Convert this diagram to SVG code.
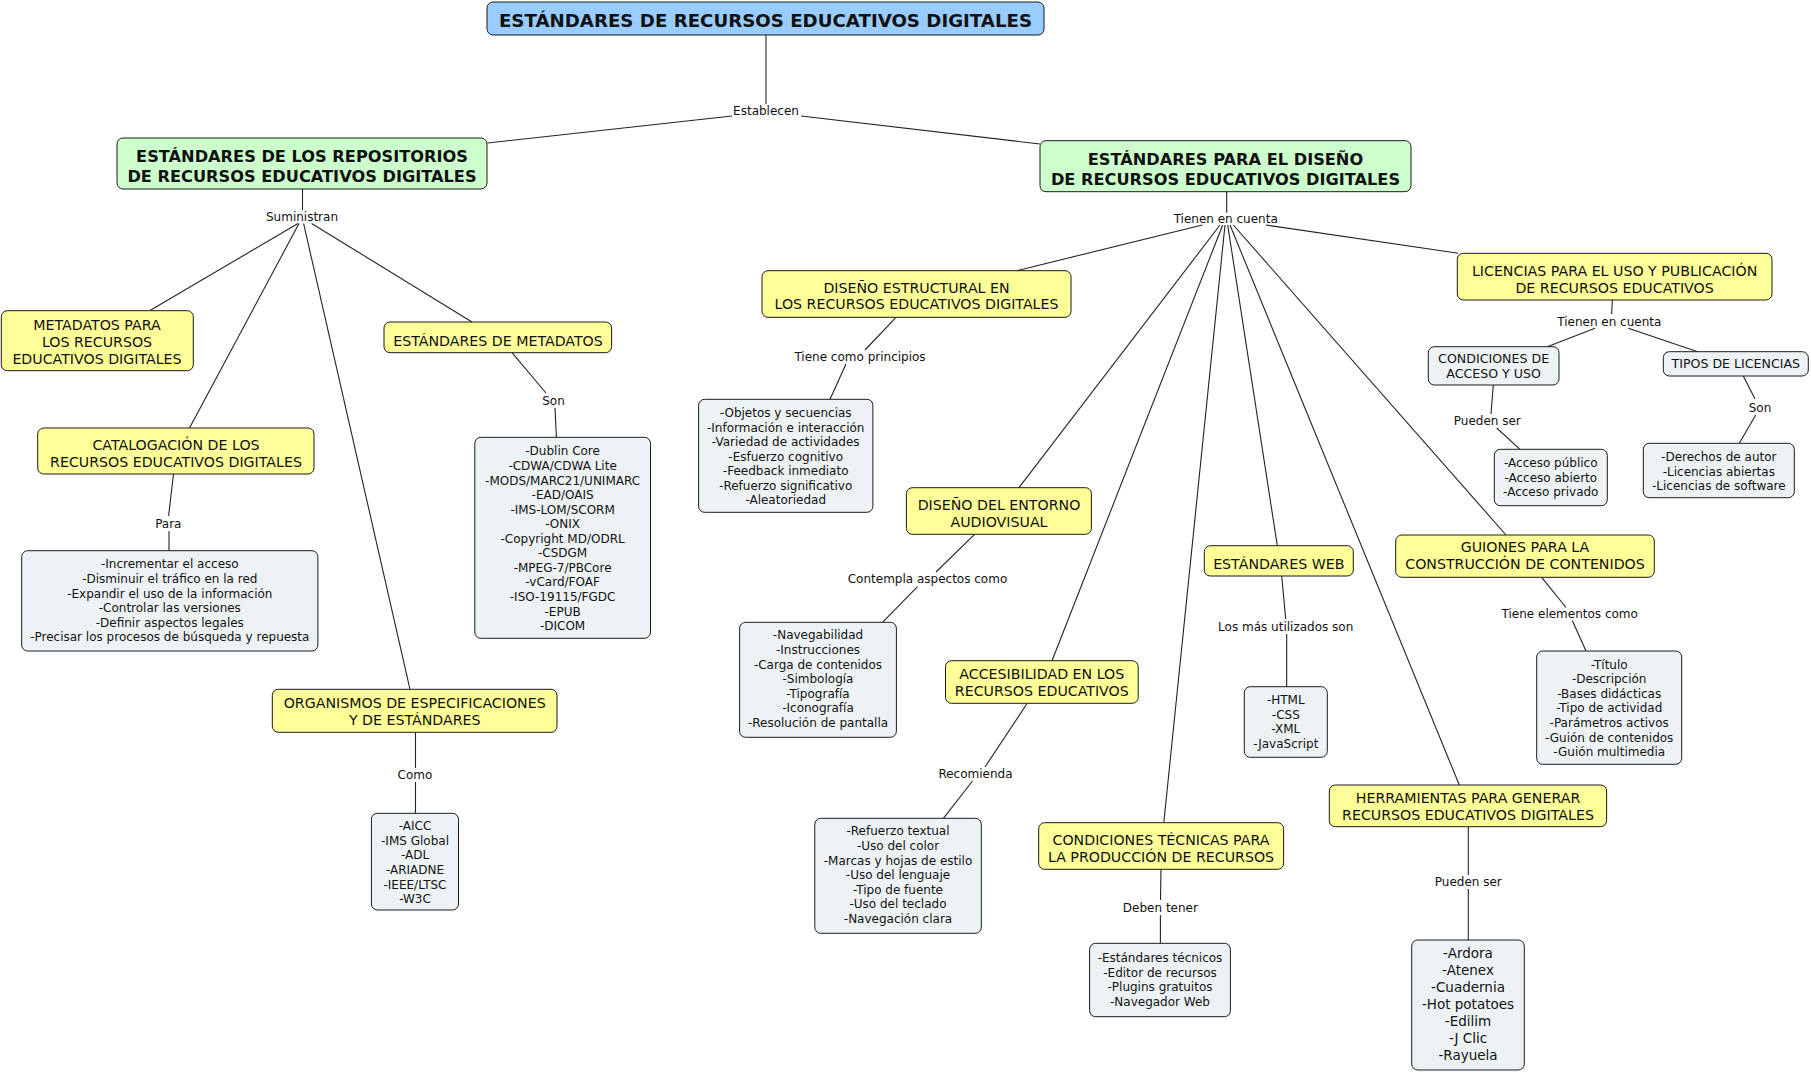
<svg xmlns="http://www.w3.org/2000/svg" width="1811" height="1073" viewBox="0 0 1811 1073">
<style>
text{font-family:"DejaVu Sans",Verdana,"Liberation Sans",sans-serif;fill:#111;text-anchor:middle}
.box{stroke:#1a1a1a;stroke-width:1}
.blu{fill:#99ccff}.grn{fill:#ccffcc}.yel{fill:#ffff99}.lst{fill:#edf3f5}
.tr{font-size:18.2px;font-weight:bold}
.tm{font-size:16.2px;font-weight:bold}
.tn{font-size:14.2px}
.ts{font-size:12.6px}
.tl{font-size:12px}
.tb{font-size:13.5px}
.lk{font-size:12px}
#connectors line{stroke:#222;stroke-width:1.1}
</style>
<rect width="1811" height="1073" fill="#fff"/>
<g id="connectors">
<line x1="766" y1="35" x2="766" y2="104"/>
<line x1="732" y1="116" x2="487.5" y2="143"/>
<line x1="801" y1="116" x2="1040" y2="144"/>
<line x1="302.5" y1="189" x2="302.5" y2="210"/>
<line x1="298" y1="223.5" x2="149.6" y2="310.7"/>
<line x1="299" y1="223.5" x2="189.5" y2="428"/>
<line x1="303.6" y1="223.5" x2="410" y2="689.3"/>
<line x1="311.6" y1="223.5" x2="472" y2="322"/>
<line x1="512" y1="352.7" x2="546" y2="393"/>
<line x1="555" y1="408" x2="556.4" y2="437.3"/>
<line x1="173.5" y1="474" x2="168.6" y2="516"/>
<line x1="169" y1="531" x2="169" y2="550.7"/>
<line x1="415.5" y1="732.3" x2="415.5" y2="768"/>
<line x1="415.5" y1="782" x2="415.5" y2="813.3"/>
<line x1="1226.7" y1="191.7" x2="1226.7" y2="212.7"/>
<line x1="1202.3" y1="225" x2="1016.7" y2="270.7"/>
<line x1="1266" y1="225" x2="1458.3" y2="253.3"/>
<line x1="1220" y1="225" x2="1019" y2="487.7"/>
<line x1="1222.7" y1="225" x2="1052" y2="660.7"/>
<line x1="1225" y1="225" x2="1163.8" y2="822.7"/>
<line x1="1227.7" y1="225" x2="1277.3" y2="545.7"/>
<line x1="1230" y1="225" x2="1459.3" y2="785"/>
<line x1="1233.3" y1="225" x2="1506" y2="535"/>
<line x1="896" y1="317.3" x2="865" y2="350"/>
<line x1="846" y1="364" x2="830" y2="399.3"/>
<line x1="974.6" y1="534.3" x2="936" y2="572"/>
<line x1="917.5" y1="586.7" x2="882.5" y2="622.3"/>
<line x1="1027.2" y1="703.3" x2="985" y2="767"/>
<line x1="972.5" y1="781" x2="943.4" y2="818.3"/>
<line x1="1161" y1="869.3" x2="1160.5" y2="900"/>
<line x1="1160.4" y1="915" x2="1160.4" y2="943.3"/>
<line x1="1281.7" y1="576" x2="1285.7" y2="619"/>
<line x1="1286.7" y1="634" x2="1286.7" y2="686.7"/>
<line x1="1541.7" y1="577.3" x2="1566" y2="607.5"/>
<line x1="1572.3" y1="620.5" x2="1586" y2="651"/>
<line x1="1468.3" y1="826.7" x2="1468.3" y2="875"/>
<line x1="1468.3" y1="889" x2="1468.3" y2="940"/>
<line x1="1612.3" y1="300" x2="1611.7" y2="314"/>
<line x1="1595" y1="328.3" x2="1547.3" y2="346.7"/>
<line x1="1628.3" y1="328.3" x2="1697.7" y2="351.7"/>
<line x1="1493.3" y1="385" x2="1491" y2="414"/>
<line x1="1496.7" y1="428" x2="1520" y2="449.3"/>
<line x1="1743.3" y1="376" x2="1755" y2="399"/>
<line x1="1755.7" y1="415" x2="1739.3" y2="443.3"/>
</g>
<g id="link-labels">
<text class="lk" x="766" y="115">Establecen</text>
<text class="lk" x="302" y="221">Suministran</text>
<text class="lk" x="553.5" y="405">Son</text>
<text class="lk" x="168.3" y="527.5">Para</text>
<text class="lk" x="415" y="779">Como</text>
<text class="lk" x="1225.7" y="222.5">Tienen en cuenta</text>
<text class="lk" x="860" y="361">Tiene como principios</text>
<text class="lk" x="927.5" y="583">Contempla aspectos como</text>
<text class="lk" x="975.5" y="778">Recomienda</text>
<text class="lk" x="1160.4" y="912">Deben tener</text>
<text class="lk" x="1285.7" y="631">Los más utilizados son</text>
<text class="lk" x="1569.7" y="618">Tiene elementos como</text>
<text class="lk" x="1468.3" y="886">Pueden ser</text>
<text class="lk" x="1609.3" y="326">Tienen en cuenta</text>
<text class="lk" x="1487.3" y="425">Pueden ser</text>
<text class="lk" x="1760" y="411.5">Son</text>
</g>
<g id="n-root"><rect class="box blu" x="487" y="2" width="557" height="33" rx="6"/><text class="tr" x="765.5" y="27">ESTÁNDARES DE RECURSOS EDUCATIVOS DIGITALES</text></g>
<g id="n-repos"><rect class="box grn" x="117" y="138" width="370" height="51" rx="6"/><text class="tm" x="302" y="162">ESTÁNDARES DE LOS REPOSITORIOS</text><text class="tm" x="302" y="182">DE RECURSOS EDUCATIVOS DIGITALES</text></g>
<g id="n-diseno"><rect class="box grn" x="1040" y="140.7" width="371" height="51" rx="6"/><text class="tm" x="1225.5" y="165">ESTÁNDARES PARA EL DISEÑO</text><text class="tm" x="1225.5" y="184.5">DE RECURSOS EDUCATIVOS DIGITALES</text></g>
<g id="n-metadatos-para"><rect class="box yel" x="1.3" y="310.7" width="192" height="60" rx="6"/><text class="tn" x="97" y="330">METADATOS PARA</text><text class="tn" x="97" y="347">LOS RECURSOS</text><text class="tn" x="97" y="364">EDUCATIVOS DIGITALES</text></g>
<g id="n-catalogacion"><rect class="box yel" x="37.7" y="428" width="276.3" height="46" rx="6"/><text class="tn" x="176" y="450">CATALOGACIÓN DE LOS</text><text class="tn" x="176" y="467">RECURSOS EDUCATIVOS DIGITALES</text></g>
<g id="n-est-metadatos"><rect class="box yel" x="384" y="322" width="227.6" height="30.7" rx="6"/><text class="tn" x="498" y="346">ESTÁNDARES DE METADATOS</text></g>
<g id="n-organismos"><rect class="box yel" x="272.3" y="689.3" width="284.7" height="43" rx="6"/><text class="tn" x="414.7" y="708">ORGANISMOS DE ESPECIFICACIONES</text><text class="tn" x="414.7" y="725">Y DE ESTÁNDARES</text></g>
<g id="n-lista-para"><rect class="box lst" x="21.7" y="550.7" width="296.2" height="100.3" rx="6"/><text class="tl"><tspan x="169.8" y="568.4">-Incrementar el acceso</tspan><tspan x="169.8" y="582.9">-Disminuir el tráfico en la red</tspan><tspan x="169.8" y="597.5">-Expandir el uso de la información</tspan><tspan x="169.8" y="612">-Controlar las versiones</tspan><tspan x="169.8" y="626.5">-Definir aspectos legales</tspan><tspan x="169.8" y="641.1">-Precisar los procesos de búsqueda y repuesta</tspan></text></g>
<g id="n-lista-metadatos"><rect class="box lst" x="474.8" y="437.3" width="175.7" height="201" rx="6"/><text class="tl"><tspan x="562.6" y="455.4">-Dublin Core</tspan><tspan x="562.6" y="470">-CDWA/CDWA Lite</tspan><tspan x="562.6" y="484.5">-MODS/MARC21/UNIMARC</tspan><tspan x="562.6" y="499.1">-EAD/OAIS</tspan><tspan x="562.6" y="513.6">-IMS-LOM/SCORM</tspan><tspan x="562.6" y="528.2">-ONIX</tspan><tspan x="562.6" y="542.8">-Copyright MD/ODRL</tspan><tspan x="562.6" y="557.3">-CSDGM</tspan><tspan x="562.6" y="571.9">-MPEG-7/PBCore</tspan><tspan x="562.6" y="586.4">-vCard/FOAF</tspan><tspan x="562.6" y="601">-ISO-19115/FGDC</tspan><tspan x="562.6" y="615.6">-EPUB</tspan><tspan x="562.6" y="630.1">-DICOM</tspan></text></g>
<g id="n-lista-organismos"><rect class="box lst" x="371.4" y="813.3" width="87.1" height="96.7" rx="6"/><text class="tl"><tspan x="415" y="830.1">-AICC</tspan><tspan x="415" y="844.7">-IMS Global</tspan><tspan x="415" y="859.3">-ADL</tspan><tspan x="415" y="873.9">-ARIADNE</tspan><tspan x="415" y="888.5">-IEEE/LTSC</tspan><tspan x="415" y="903.1">-W3C</tspan></text></g>
<g id="n-estructural"><rect class="box yel" x="762" y="270.7" width="309" height="46.6" rx="6"/><text class="tn" x="916.5" y="293">DISEÑO ESTRUCTURAL EN</text><text class="tn" x="916.5" y="309">LOS RECURSOS EDUCATIVOS DIGITALES</text></g>
<g id="n-lista-principios"><rect class="box lst" x="698.6" y="399.3" width="174.3" height="113" rx="6"/><text class="tl"><tspan x="785.7" y="417.1">-Objetos y secuencias</tspan><tspan x="785.7" y="431.6">-Información e interacción</tspan><tspan x="785.7" y="446.2">-Variedad de actividades</tspan><tspan x="785.7" y="460.7">-Esfuerzo cognitivo</tspan><tspan x="785.7" y="475.3">-Feedback inmediato</tspan><tspan x="785.7" y="489.8">-Refuerzo significativo</tspan><tspan x="785.7" y="504.4">-Aleatoriedad</tspan></text></g>
<g id="n-entorno"><rect class="box yel" x="906.4" y="487.7" width="185" height="46.6" rx="6"/><text class="tn" x="999" y="510">DISEÑO DEL ENTORNO</text><text class="tn" x="999" y="527">AUDIOVISUAL</text></g>
<g id="n-lista-entorno"><rect class="box lst" x="739.6" y="622.3" width="156.8" height="115" rx="6"/><text class="tl"><tspan x="818" y="639.4">-Navegabilidad</tspan><tspan x="818" y="654">-Instrucciones</tspan><tspan x="818" y="668.6">-Carga de contenidos</tspan><tspan x="818" y="683.2">-Simbología</tspan><tspan x="818" y="697.8">-Tipografía</tspan><tspan x="818" y="712.4">-Iconografía</tspan><tspan x="818" y="727">-Resolución de pantalla</tspan></text></g>
<g id="n-accesibilidad"><rect class="box yel" x="945.5" y="660.7" width="192.7" height="42.6" rx="6"/><text class="tn" x="1041.8" y="679">ACCESIBILIDAD EN LOS</text><text class="tn" x="1041.8" y="695.5">RECURSOS EDUCATIVOS</text></g>
<g id="n-lista-accesibilidad"><rect class="box lst" x="814.8" y="818.3" width="166.5" height="115" rx="6"/><text class="tl"><tspan x="898" y="835.4">-Refuerzo textual</tspan><tspan x="898" y="849.9">-Uso del color</tspan><tspan x="898" y="864.5">-Marcas y hojas de estilo</tspan><tspan x="898" y="879">-Uso del lenguaje</tspan><tspan x="898" y="893.6">-Tipo de fuente</tspan><tspan x="898" y="908.1">-Uso del teclado</tspan><tspan x="898" y="922.7">-Navegación clara</tspan></text></g>
<g id="n-tecnicas"><rect class="box yel" x="1038.7" y="822.7" width="244.9" height="46.6" rx="6"/><text class="tn" x="1161" y="845">CONDICIONES TÉCNICAS PARA</text><text class="tn" x="1161" y="862">LA PRODUCCIÓN DE RECURSOS</text></g>
<g id="n-lista-tecnicas"><rect class="box lst" x="1089.6" y="943.3" width="140.8" height="73.4" rx="6"/><text class="tl"><tspan x="1160" y="962.1">-Estándares técnicos</tspan><tspan x="1160" y="976.8">-Editor de recursos</tspan><tspan x="1160" y="991.4">-Plugins gratuitos</tspan><tspan x="1160" y="1006.1">-Navegador Web</tspan></text></g>
<g id="n-web"><rect class="box yel" x="1204.3" y="545.7" width="149" height="30.3" rx="6"/><text class="tn" x="1278.8" y="569">ESTÁNDARES WEB</text></g>
<g id="n-lista-web"><rect class="box lst" x="1244.3" y="686.7" width="83" height="70.6" rx="6"/><text class="tl"><tspan x="1285.8" y="704.4">-HTML</tspan><tspan x="1285.8" y="718.8">-CSS</tspan><tspan x="1285.8" y="733.2">-XML</tspan><tspan x="1285.8" y="747.6">-JavaScript</tspan></text></g>
<g id="n-guiones"><rect class="box yel" x="1395.7" y="535" width="258.6" height="42.3" rx="6"/><text class="tn" x="1525" y="552.3">GUIONES PARA LA</text><text class="tn" x="1525" y="569.3">CONSTRUCCIÓN DE CONTENIDOS</text></g>
<g id="n-lista-guiones"><rect class="box lst" x="1536.7" y="651" width="145" height="113.3" rx="6"/><text class="tl"><tspan x="1609.2" y="668.7">-Título</tspan><tspan x="1609.2" y="683.3">-Descripción</tspan><tspan x="1609.2" y="697.8">-Bases didácticas</tspan><tspan x="1609.2" y="712.4">-Tipo de actividad</tspan><tspan x="1609.2" y="726.9">-Parámetros activos</tspan><tspan x="1609.2" y="741.5">-Guión de contenidos</tspan><tspan x="1609.2" y="756">-Guión multimedia</tspan></text></g>
<g id="n-herramientas"><rect class="box yel" x="1329.3" y="785" width="277.3" height="41.7" rx="6"/><text class="tn" x="1468" y="803">HERRAMIENTAS PARA GENERAR</text><text class="tn" x="1468" y="820">RECURSOS EDUCATIVOS DIGITALES</text></g>
<g id="n-lista-herramientas"><rect class="box lst" x="1411.7" y="940" width="112.6" height="130" rx="6"/><text class="tb"><tspan x="1468" y="957.6">-Ardora</tspan><tspan x="1468" y="974.6">-Atenex</tspan><tspan x="1468" y="991.6">-Cuadernia</tspan><tspan x="1468" y="1008.6">-Hot potatoes</tspan><tspan x="1468" y="1025.6">-Edilim</tspan><tspan x="1468" y="1042.6">-J Clic</tspan><tspan x="1468" y="1059.6">-Rayuela</tspan></text></g>
<g id="n-licencias"><rect class="box yel" x="1457.3" y="253.3" width="314.7" height="46.7" rx="6"/><text class="tn" x="1614.6" y="276">LICENCIAS PARA EL USO Y PUBLICACIÓN</text><text class="tn" x="1614.6" y="292.7">DE RECURSOS EDUCATIVOS</text></g>
<g id="n-condiciones-acceso"><rect class="box lst" x="1428.3" y="346.7" width="130.7" height="38.3" rx="6"/><text class="ts" x="1493.6" y="363.3">CONDICIONES DE</text><text class="ts" x="1493.6" y="377.7">ACCESO Y USO</text></g>
<g id="n-tipos"><rect class="box lst" x="1663.3" y="351.7" width="145" height="24.3" rx="6"/><text class="ts" x="1735.8" y="368.3">TIPOS DE LICENCIAS</text></g>
<g id="n-lista-acceso"><rect class="box lst" x="1494.3" y="449.3" width="113" height="56.4" rx="6"/><text class="tl"><tspan x="1550.8" y="467.1">-Acceso público</tspan><tspan x="1550.8" y="481.6">-Acceso abierto</tspan><tspan x="1550.8" y="496.1">-Acceso privado</tspan></text></g>
<g id="n-lista-licencias"><rect class="box lst" x="1643.3" y="443.3" width="151" height="54.4" rx="6"/><text class="tl"><tspan x="1718.8" y="461.1">-Derechos de autor</tspan><tspan x="1718.8" y="475.6">-Licencias abiertas</tspan><tspan x="1718.8" y="490.1">-Licencias de software</tspan></text></g>
</svg>
